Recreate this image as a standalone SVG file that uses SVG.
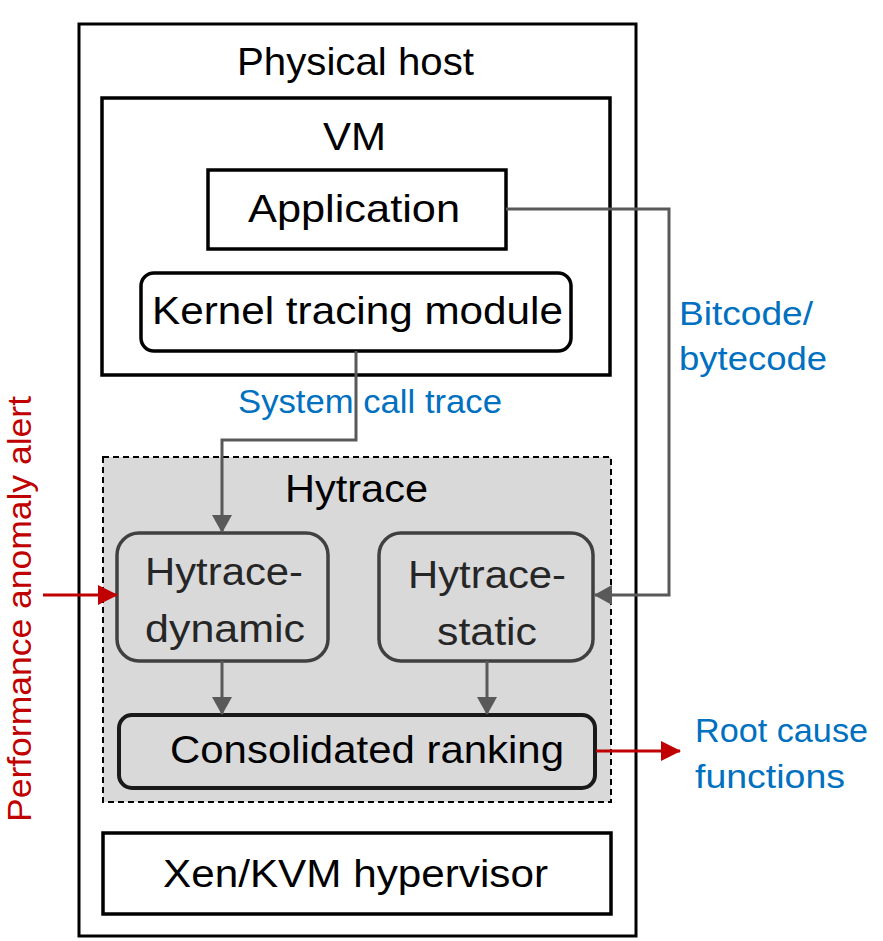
<svg xmlns="http://www.w3.org/2000/svg" width="883" height="941" viewBox="0 0 883 941">
  <defs>
    <marker id="ag" markerUnits="userSpaceOnUse" markerWidth="18" markerHeight="20" viewBox="0 0 18 20" refX="17" refY="10" orient="auto">
      <path d="M0,0 L18,10 L0,20 z" fill="#595959"/>
    </marker>
    <marker id="ar" markerUnits="userSpaceOnUse" markerWidth="20" markerHeight="20" viewBox="0 0 20 20" refX="19" refY="10" orient="auto">
      <path d="M0,0 L20,10 L0,20 z" fill="#C00000"/>
    </marker>
    <style>
      text { font-family: "Liberation Sans", Arial, sans-serif; }
      .lbl { font-size: 39px; fill: #000; }
      .hl { font-size: 38px; fill: #262626; }
      .blue { font-size: 33px; fill: #0070C0; }
      .red { font-size: 33px; fill: #C00000; }
      .box { fill: #fff; stroke: #000; stroke-width: 3.5; }
      .inner { fill: #D9D9D9; stroke: #404040; stroke-width: 3.5; }
      .conn { fill: none; stroke: #595959; stroke-width: 3; }
      .rconn { fill: none; stroke: #C00000; stroke-width: 3; }
    </style>
  </defs>

  <g id="physical-host">
    <rect x="79" y="24" width="557" height="912" fill="#fff" stroke="#000" stroke-width="3"/>
    <text class="lbl" x="237" y="75" textLength="237" lengthAdjust="spacingAndGlyphs">Physical host</text>
  </g>

  <g id="vm">
    <rect class="box" x="102" y="98" width="508" height="277"/>
    <text class="lbl" x="323" y="150" textLength="63" lengthAdjust="spacingAndGlyphs">VM</text>
  </g>

  <g id="application">
    <rect class="box" x="208" y="170" width="298" height="79" stroke-width="3"/>
    <text class="lbl" x="248" y="222" textLength="212" lengthAdjust="spacingAndGlyphs">Application</text>
  </g>

  <g id="kernel-tracing-module">
    <rect class="box" x="141" y="273" width="430" height="78" rx="13"/>
    <text class="lbl" x="152" y="324" textLength="411" lengthAdjust="spacingAndGlyphs">Kernel tracing module</text>
  </g>

  <g id="hytrace">
    <rect x="103" y="457" width="508" height="345" fill="#D9D9D9" stroke="#000" stroke-width="2" stroke-dasharray="6,4"/>
    <text class="lbl" x="285" y="502" textLength="143" lengthAdjust="spacingAndGlyphs">Hytrace</text>
  </g>

  <g id="hytrace-dynamic">
    <rect class="inner" x="117" y="533" width="211" height="128" rx="22"/>
    <text class="hl" x="145" y="585" textLength="158" lengthAdjust="spacingAndGlyphs">Hytrace-</text>
    <text class="hl" x="145" y="642" textLength="160" lengthAdjust="spacingAndGlyphs">dynamic</text>
  </g>

  <g id="hytrace-static">
    <rect class="inner" x="379" y="533" width="214" height="128" rx="22"/>
    <text class="hl" x="408" y="588" textLength="158" lengthAdjust="spacingAndGlyphs">Hytrace-</text>
    <text class="hl" x="437" y="645" textLength="100" lengthAdjust="spacingAndGlyphs">static</text>
  </g>

  <g id="consolidated-ranking">
    <rect x="119" y="715" width="476" height="73" rx="13" fill="#D9D9D9" stroke="#1a1a1a" stroke-width="4"/>
    <text class="lbl" x="170" y="763" textLength="394" lengthAdjust="spacingAndGlyphs">Consolidated ranking</text>
  </g>

  <g id="hypervisor">
    <rect class="box" x="103" y="833" width="508" height="81" stroke-width="3"/>
    <text class="lbl" x="163" y="887" textLength="385" lengthAdjust="spacingAndGlyphs">Xen/KVM hypervisor</text>
  </g>

  <g id="connectors">
    <polyline class="conn" points="506,209 669,209 669,595 595,595" marker-end="url(#ag)"/>
    <polyline class="conn" points="356,351 356,440 222,440 222,532" marker-end="url(#ag)"/>
    <line class="conn" x1="222" y1="661" x2="222" y2="714" marker-end="url(#ag)"/>
    <line class="conn" x1="487" y1="661" x2="487" y2="714" marker-end="url(#ag)"/>
    <line class="rconn" x1="43" y1="595" x2="117" y2="595" marker-end="url(#ar)"/>
    <line class="rconn" x1="596" y1="751" x2="680" y2="751" marker-end="url(#ar)"/>
  </g>

  <g id="labels">
    <text class="blue" x="238" y="413" textLength="264" lengthAdjust="spacingAndGlyphs">System call trace</text>
    <text class="blue" x="679" y="325" textLength="134" lengthAdjust="spacingAndGlyphs">Bitcode/</text>
    <text class="blue" x="679" y="370" textLength="148" lengthAdjust="spacingAndGlyphs">bytecode</text>
    <text class="blue" x="695" y="742" textLength="173" lengthAdjust="spacingAndGlyphs">Root cause</text>
    <text class="blue" x="695" y="788" textLength="150" lengthAdjust="spacingAndGlyphs">functions</text>
    <text class="red" transform="translate(31,822) rotate(-90)" x="0" y="0" textLength="426" lengthAdjust="spacingAndGlyphs">Performance anomaly alert</text>
  </g>
</svg>
